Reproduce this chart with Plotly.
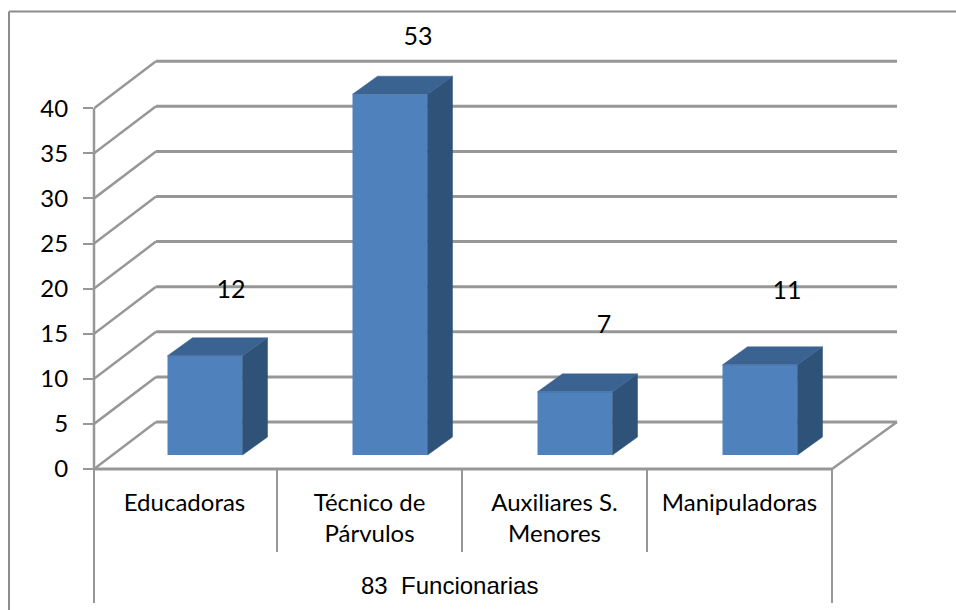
import plotly.graph_objects as go

# Data
categories = ["Educadoras", "Técnico de<br>Párvulos", "Auxiliares S.<br>Menores", "Manipuladoras"]
values = [11, 40, 7, 10]
label_texts = ["12", "53", "7", "11"]
group_label = "83\u00a0\u00a0Funcionarias"
y_ticks = [0, 5, 10, 15, 20, 25, 30, 35, 40]

# Geometry / style
W, H = 956, 610
L, R, T, B = 94, 36, 20, 141
CAT_PX = 185
UNIT_PX = 9.02
x_max = (W - L - R) / CAT_PX
y_max = (H - T - B) / UNIT_PX
origin = -2 / CAT_PX
wall_dx, wall_dy = 62 / CAT_PX, 47 / UNIT_PX
wall_dx_right = 65 / CAT_PX
bar_dx, bar_dy = 25 / CAT_PX, 18 / UNIT_PX
bar_w = 75 / CAT_PX
bar_shift = 20.5 / CAT_PX
bar_base = 14 / UNIT_PX
label_dx = [26 / CAT_PX, 28 / CAT_PX, 29 / CAT_PX, 27 / CAT_PX]
label_lift = [7.1, 6.15, 7.2, 8.0]
GRAY = "#979797"
FRONT, SIDE, TOP = "#4f81bd", "#2f5279", "#3a6392"
FONT = "Lato"

n = len(categories)
edges = [origin + i for i in range(n + 1)]
centers = [origin + i + 0.5 for i in range(n)]
bar_x = [c + bar_shift for c in centers]
right_end = edges[-1] + wall_dx_right

fig = go.Figure()

def xp(x):
    return x / x_max
def yp(y):
    return y / y_max
def pline(x0, y0, x1, y1, width=2.5, color=GRAY, layer="above"):
    return dict(type="line", layer=layer, xref="paper", yref="paper", x0=xp(x0), y0=yp(y0),
                x1=xp(x1), y1=yp(y1), line=dict(color=color, width=width))

# Back wall and floor lines (behind the bars)
shapes = []
for t in y_ticks:
    shapes.append(dict(type="line", layer="below", xref="x", yref="y", x0=0, y0=t,
                       x1=wall_dx, y1=t + wall_dy, line=dict(color=GRAY, width=2.5)))
    shapes.append(dict(type="line", layer="below", xref="x", yref="y", x0=wall_dx, y0=t + wall_dy,
                       x1=right_end, y1=t + wall_dy, line=dict(color=GRAY, width=3)))

# Axis lines, floor edges, category dividers
shapes.append(pline(0, 0, 0, y_ticks[-1], 2.5))
shapes.append(pline(0, 0, edges[-1], 0, 3))
shapes.append(pline(edges[-1], 0, right_end, wall_dy, 2.5))
for e in edges[1:-1]:
    shapes.append(pline(e, 0, e, -83 / UNIT_PX, 2))
for e in (0, edges[-1]):
    shapes.append(pline(e, 0, e, -134 / UNIT_PX, 2))

# Outer frame (top and left only)
def px(x):
    return (x - L) / (W - L - R)
def py(y):
    return 1 - (y - T) / (H - T - B)
shapes.append(dict(type="line", xref="paper", yref="paper", x0=px(9), y0=py(11.5), x1=px(956), y1=py(11.5),
                   line=dict(color="#8c8c8c", width=2)))
shapes.append(dict(type="line", xref="paper", yref="paper", x0=px(9), y0=py(11.5), x1=px(9), y1=py(610),
                   line=dict(color="#8c8c8c", width=2)))

# Bars: front faces
fig.add_trace(go.Bar(x=bar_x, y=values, base=[bar_base] * n, width=bar_w,
                     marker=dict(color=FRONT, line=dict(width=0)), hoverinfo="skip"))

# Bars: side and top faces derived from values
for bx, v in zip(bar_x, values):
    r = bx + bar_w / 2
    l = bx - bar_w / 2
    top = bar_base + v
    fig.add_trace(go.Scatter(x=[r, r + bar_dx, r + bar_dx, r, r],
                             y=[bar_base, bar_base + bar_dy, top + bar_dy, top, bar_base],
                             mode="lines", fill="toself", fillcolor=SIDE,
                             line=dict(color=SIDE, width=0.5), hoverinfo="skip"))
    fig.add_trace(go.Scatter(x=[l, l + bar_dx, r + bar_dx, r, l],
                             y=[top, top + bar_dy, top + bar_dy, top, top],
                             mode="lines", fill="toself", fillcolor=TOP,
                             line=dict(color=TOP, width=0.5), hoverinfo="skip"))

# Data labels
fig.add_trace(go.Scatter(x=[b + d for b, d in zip(bar_x, label_dx)],
                         y=[bar_base + v + l for v, l in zip(values, label_lift)],
                         text=label_texts, mode="text", textposition="middle center",
                         textfont=dict(family=FONT, size=25, color="black"),
                         cliponaxis=False, hoverinfo="skip"))

# Group label
fig.add_annotation(x=px(449), y=py(585), xref="paper", yref="paper", text=group_label,
                   xanchor="center", yanchor="middle",
                   showarrow=False, font=dict(family="Liberation Sans", size=24, color="black"))

fig.update_layout(
    width=W, height=H, margin=dict(l=L, r=R, t=T, b=B), autosize=False,
    paper_bgcolor="white", plot_bgcolor="white", showlegend=False,
    shapes=shapes, hovermode=False,
    xaxis=dict(range=[0, x_max], tickmode="array", tickvals=centers, ticktext=categories,
               showgrid=False, zeroline=False, showline=False, ticks="",
               ticklabelstandoff=17, tickangle=0,
               tickfont=dict(family=FONT, size=24, color="black")),
    yaxis=dict(range=[0, y_max], tickmode="array", tickvals=y_ticks, showgrid=False, zeroline=False,
               showline=False, ticks="outside", ticklen=10,
               tickcolor=GRAY, tickwidth=2, ticklabelstandoff=10,
               tickfont=dict(family=FONT, size=24, color="black")),
)

fig.write_html("out.html", config=dict(displayModeBar=False),
               post_script="document.body.style.margin='0';document.body.style.overflow='hidden';")
